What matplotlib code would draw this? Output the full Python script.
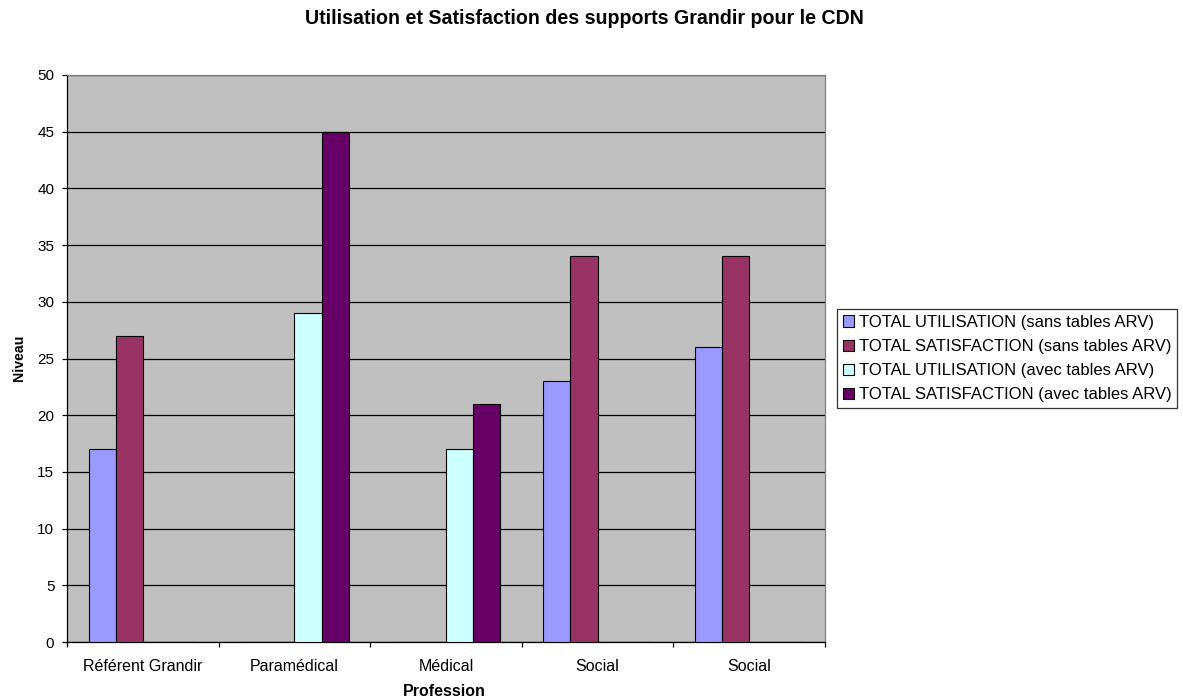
import matplotlib
matplotlib.use("Agg")
import matplotlib.pyplot as plt
import numpy as np

plt.rcParams['font.family'] = ['Liberation Sans', 'DejaVu Sans']

categories = ["Référent Grandir", "Paramédical", "Médical", "Social", "Social"]
series_names = [
    "TOTAL UTILISATION (sans tables ARV)",
    "TOTAL SATISFACTION (sans tables ARV)",
    "TOTAL UTILISATION (avec tables ARV)",
    "TOTAL SATISFACTION (avec tables ARV)",
]
util_sans = [17, 0, 0, 23, 26]
satis_sans = [27, 0, 0, 34, 34]
util_avec = [0, 29, 17, 0, 0]
satis_avec = [0, 45, 21, 0, 0]
colors = ["#9999FF", "#993366", "#CCFFFF", "#660066"]

W, H = 1183, 699
fig = plt.figure(figsize=(W / 100, H / 100), dpi=100)
ax = fig.add_axes([67 / W, 1 - 642 / H, (825 - 67) / W, (642 - 75) / H])
ax.set_facecolor("#C0C0C0")

x = np.arange(len(categories))
bw = 0.179
values = [util_sans, satis_sans, util_avec, satis_avec]
handles = []
for k, (vals, col, name) in enumerate(zip(values, colors, series_names)):
    offs = (k - 1.5) * bw
    b = ax.bar(x + offs, vals, width=bw, color=col, edgecolor="black",
               linewidth=0.8, label=name, zorder=3)
    handles.append(b)

ax.set_xlim(-0.5, len(categories) - 0.5)
ax.set_ylim(0, 50)
ax.set_yticks(np.arange(0, 51, 5))
ax.yaxis.grid(True, color="black", linewidth=0.9, zorder=1)
ax.set_axisbelow(True)

ax.set_xticks(x)
ax.set_xticklabels(categories, fontsize=11.5)
ax.tick_params(axis="x", which="major", length=0, pad=12)
ax.set_xticks(np.arange(-0.5, len(categories) + 0.5, 1), minor=True)
ax.tick_params(axis="x", which="minor", length=3.6, width=0.9, color="black")
ax.tick_params(axis="y", length=3.6, width=0.9, labelsize=11, pad=5.5)

for s in ("left", "bottom"):
    ax.spines[s].set_color("black")
    ax.spines[s].set_linewidth(0.9)
for s in ("top", "right"):
    ax.spines[s].set_color("#808080")
    ax.spines[s].set_linewidth(0.9)

fig.text(444 / W, 1 - 692 / H, "Profession", ha="center", va="center",
         fontsize=11.5, fontweight="bold")
fig.text(18.5 / W, 1 - 357.5 / H, "Niveau", ha="center", va="center",
         rotation=90, fontsize=10.2, fontweight="bold")

fig.text(584.5 / W, 1 - 18 / H,
         "Utilisation et Satisfaction des supports Grandir pour le CDN",
         ha="center", va="center", fontsize=14.1, fontweight="bold")

leg = fig.legend(handles=handles, labels=series_names, loc="upper left",
                 bbox_to_anchor=(837 / W, 1 - 309 / H), fontsize=12,
                 frameon=True, fancybox=False, handlelength=0.66, handleheight=0.66,
                 handletextpad=0.3, borderpad=0.35, labelspacing=0.55,
                 borderaxespad=0)
leg.get_frame().set_edgecolor("black")
leg.get_frame().set_linewidth(0.9)

fig.savefig("out.png", dpi=100)
